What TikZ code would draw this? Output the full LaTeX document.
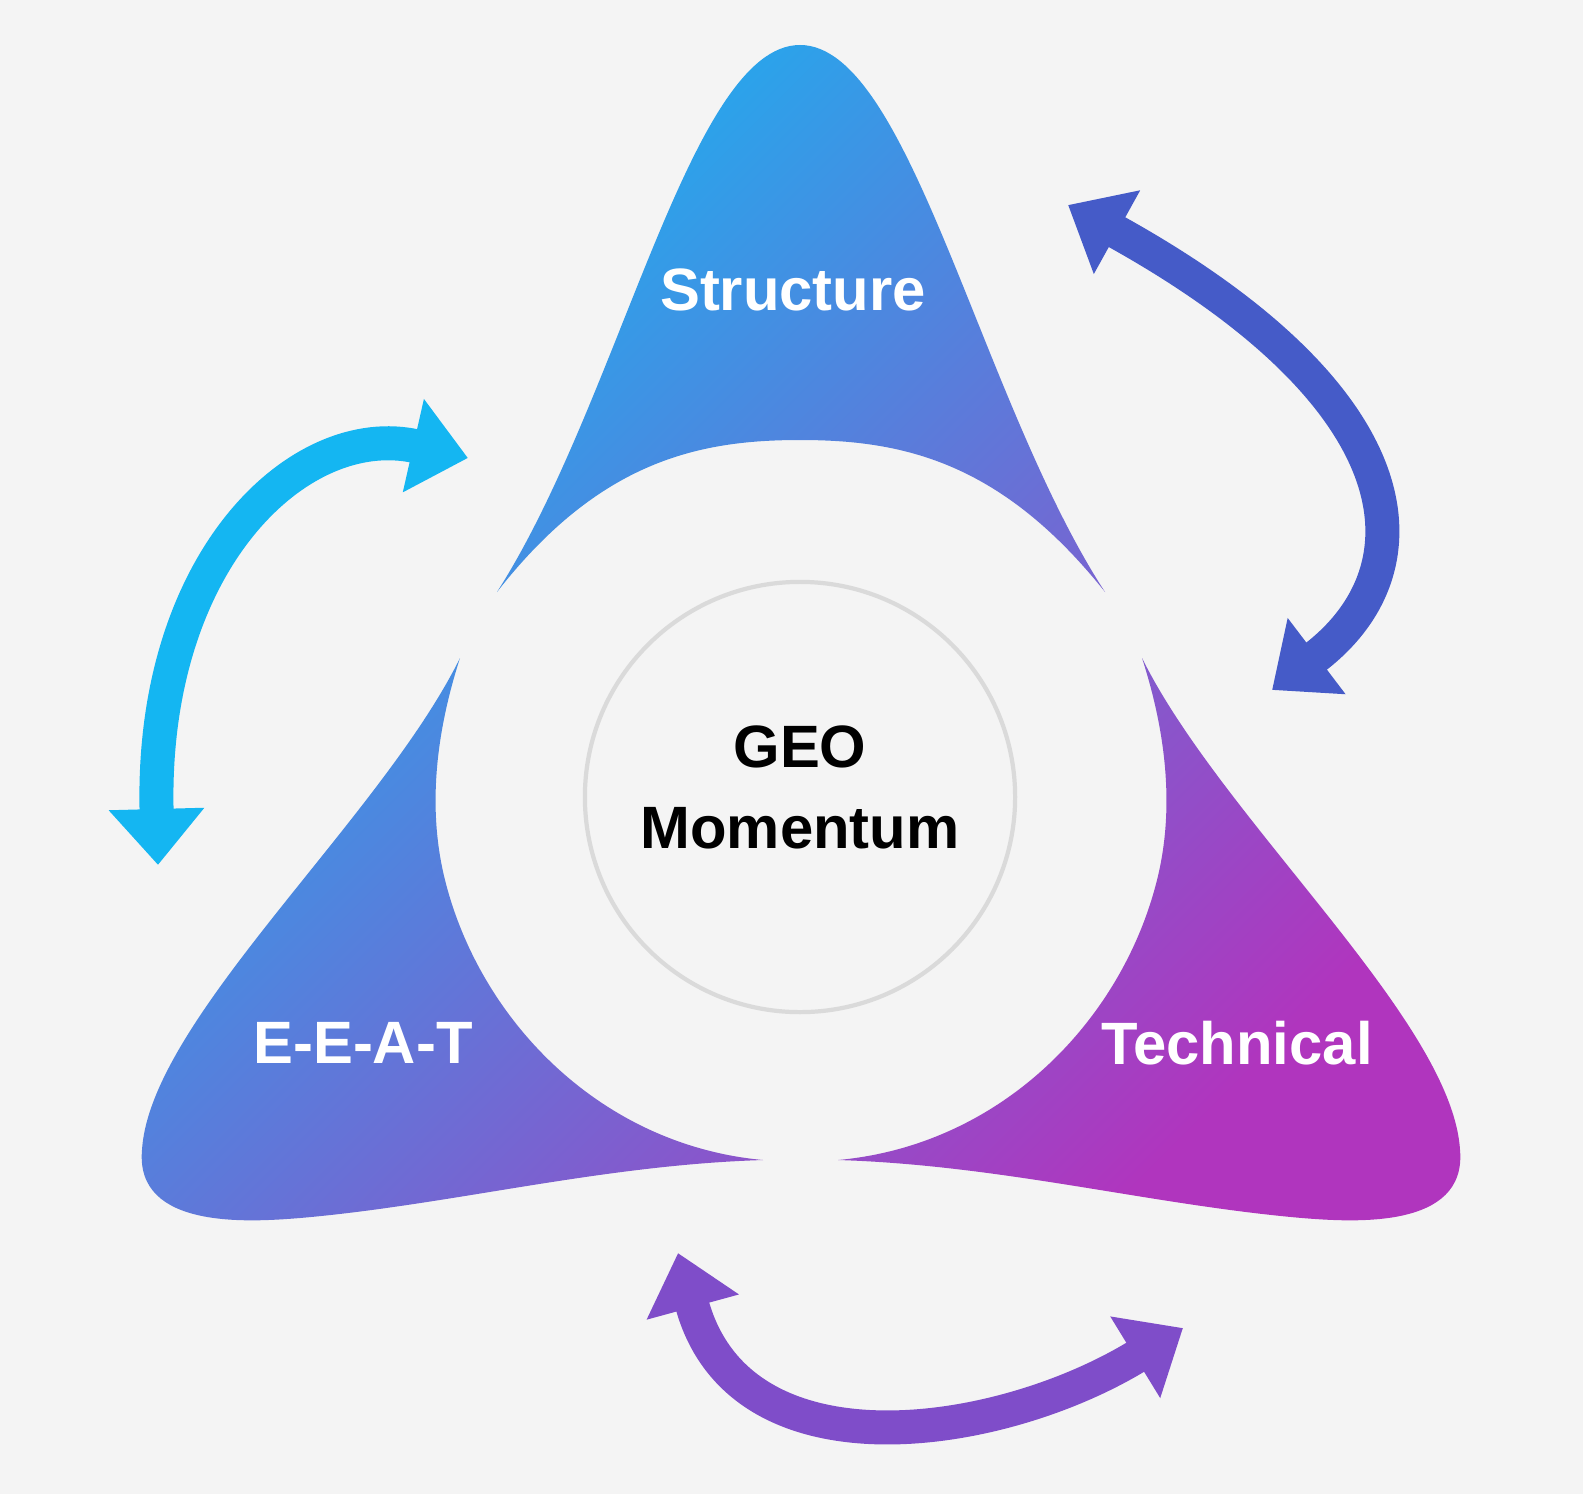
\documentclass[tikz,border=0pt]{standalone}
\usepackage{fontspec}
\setmainfont{Liberation Sans}
\usetikzlibrary{arrows.meta}
\definecolor{bg}{HTML}{F4F4F4}
\definecolor{cy}{HTML}{14B6F2}
\definecolor{bl}{HTML}{3672DA}
\definecolor{mg}{HTML}{B035BE}
\definecolor{ringc}{HTML}{DADADA}
\tikzset{
  lbl/.style={text=white,font=\bfseries\fontsize{17}{20}\selectfont},
  dbl/.style={line width=0.34cm,{Triangle[width=0.92cm,length=0.56cm]}-{Triangle[width=0.92cm,length=0.56cm]}}
}
\begin{document}
\begin{tikzpicture}[x=0.01cm,y=-0.01cm]
\fill[bg] (0,0) rectangle (1583,1494);
\useasboundingbox (0,0) rectangle (1583,1494);
\shade[top color=cy, middle color=bl, bottom color=mg, shading angle=45]
 (497,592) .. controls (620,400) and (690,45) .. (800,45) .. controls (910,45) and (980,400) .. (1105,592)
 .. controls (1000,460) and (900,440) .. (800,440) .. controls (700,440) and (600,460) .. (497,592) -- cycle
 (460,658) .. controls (380,820) and (150,1020) .. (142,1150) .. controls (135,1230) and (250,1222) .. (300,1218)
 .. controls (450,1205) and (600,1165) .. (763,1160) .. controls (600,1145) and (480,1020) .. (445,880)
 .. controls (425,800) and (440,720) .. (460,658) -- cycle
 (1142,658) .. controls (1222,820) and (1452,1020) .. (1460,1150) .. controls (1467,1230) and (1352,1222) .. (1302,1218)
 .. controls (1152,1205) and (1002,1165) .. (838,1160) .. controls (1002,1145) and (1122,1020) .. (1157,880)
 .. controls (1177,800) and (1162,720) .. (1142,658) -- cycle;
\node[circle,draw=ringc,line width=1.2pt,minimum size=4.3cm] (c) at (800,797) {};
\node[font=\bfseries\fontsize{17}{23}\selectfont,align=center] (geo) at (800,787) {GEO\\Momentum};
\node[lbl] (s) at (793,290) {Structure};
\node[lbl] (e) at (363,1043) {E-E-A-T};
\node[lbl] (t) at (1237,1043) {Technical};
\coordinate (a1) at (158,865); \coordinate (a2) at (468,458);
\coordinate (b1) at (1068,205); \coordinate (b2) at (1272,690);
\coordinate (c1) at (678,1253); \coordinate (c2) at (1183,1328);
\draw[dbl,draw=cy] (a1) .. controls (150,560) and (300,420) .. (a2);
\draw[dbl,draw=bl!80!violet] (b1) .. controls (1420,400) and (1430,570) .. (b2);
\draw[dbl,draw=mg!60!bl] (c1) .. controls (740,1480) and (1000,1440) .. (c2);
\end{tikzpicture}
\end{document}
